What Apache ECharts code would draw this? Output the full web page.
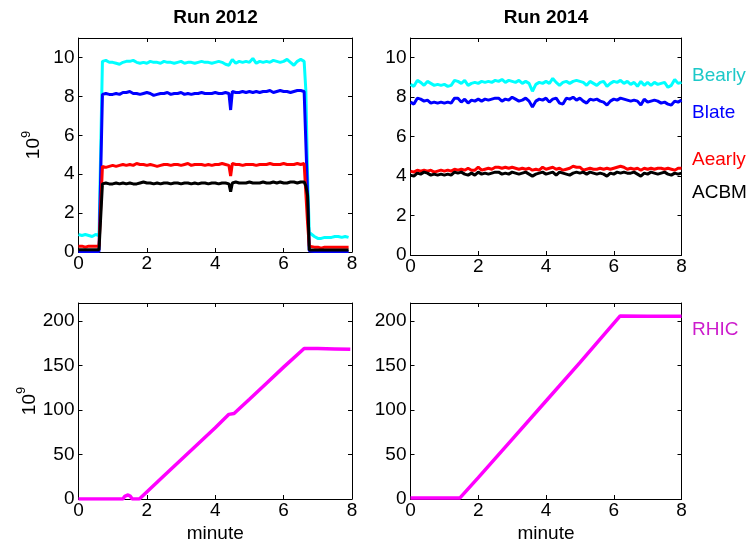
<!DOCTYPE html>
<html>
<head>
<meta charset="utf-8">
<script src="https://cdn.jsdelivr.net/npm/echarts@6/dist/echarts.min.js"></script>
<style>
html,body{margin:0;padding:0;background:#fff;}
#chart{width:749px;height:544px;}
</style>
</head>
<body>
<div id="chart"></div>
<script>
// ---------- Data ----------
const panelTitles = ['Run 2012', 'Run 2014'];
const seriesNames = ['Bearly', 'Blate', 'Aearly', 'ACBM'];
const xTicks = [0, 2, 4, 6, 8];
const yTicksTop = [0, 2, 4, 6, 8, 10];
const yTicksBottom = [0, 50, 100, 150, 200];

const t2012 = [0,0.1,0.2,0.3,0.4,0.5,0.6,0.65,
  0.7,0.8,0.9,1.0,1.1,1.2,1.3,1.4,1.5,1.6,1.7,1.8,1.9,2.0,2.1,2.2,2.3,2.4,2.5,2.6,2.7,2.8,2.9,3.0,3.1,3.2,3.3,3.4,3.5,3.6,3.7,3.8,3.9,4.0,4.1,4.2,4.3,4.4,
  4.45,
  4.5,4.6,4.7,4.8,4.9,5.0,5.1,5.2,5.3,5.4,5.5,5.6,5.7,5.8,5.9,6.0,6.1,6.2,6.3,6.4,6.5,6.6,
  6.65,6.7,6.75,
  6.8,6.9,7.0,7.1,7.2,7.3,7.4,7.5,7.6,7.7,7.8,7.9];

const bearly2012 = [0.9,0.85,0.9,0.85,0.8,0.9,0.85,0.9,
  9.8,9.85,9.75,9.75,9.7,9.65,9.75,9.8,9.8,9.85,
  9.75,9.7,9.75,9.7,9.8,9.75,9.75,9.7,9.8,9.75,
  9.75,9.7,9.75,9.8,9.7,9.75,9.75,9.7,9.75,9.8,
  9.75,9.75,9.7,9.75,9.8,9.75,9.65,9.6,
  9.75,
  9.9,9.7,9.8,9.75,9.8,9.75,9.95,9.7,9.8,9.75,
  9.8,9.75,9.85,9.8,9.75,9.8,9.9,9.75,9.6,9.8,
  9.9,9.8,
  8.3,4.0,1.0,
  0.9,0.8,0.7,0.7,0.75,0.75,0.75,0.8,0.8,0.75,0.8,0.75];

const blate2012 = [0.03,0.03,0.03,0.03,0.03,0.03,0.03,0.03,
  8.1,8.15,8.1,8.1,8.15,8.1,8.2,8.2,8.25,8.15,
  8.15,8.1,8.15,8.2,8.15,8.05,8.1,8.15,8.15,8.2,
  8.1,8.15,8.15,8.2,8.1,8.15,8.1,8.15,8.15,8.2,
  8.15,8.15,8.15,8.2,8.15,8.15,8.2,8.15,
  7.3,
  8.25,8.2,8.2,8.25,8.2,8.25,8.2,8.25,8.2,8.25,
  8.25,8.3,8.2,8.25,8.3,8.25,8.25,8.2,8.25,8.3,
  8.3,8.25,
  8.2,3.0,0.05,
  0.03,0.03,0.03,0.03,0.03,0.03,0.03,0.03,0.03,0.03,0.03,0.03];

const aearly2012 = [0.3,0.3,0.25,0.3,0.3,0.3,0.3,0.3,
  4.4,4.35,4.4,4.45,4.4,4.45,4.5,4.45,4.5,4.45,
  4.55,4.5,4.5,4.45,4.5,4.45,4.4,4.45,4.5,4.5,
  4.45,4.5,4.5,4.45,4.5,4.55,4.45,4.5,4.5,4.5,
  4.45,4.5,4.45,4.5,4.5,4.55,4.5,4.45,
  3.9,
  4.55,4.5,4.5,4.45,4.5,4.5,4.5,4.45,4.5,4.5,
  4.5,4.55,4.5,4.5,4.5,4.55,4.5,4.5,4.5,4.55,
  4.5,4.55,
  4.5,1.5,0.3,
  0.25,0.25,0.25,0.2,0.25,0.25,0.25,0.25,0.25,0.25,0.25,0.25];

const acbm2012 = [0.12,0.12,0.12,0.12,0.12,0.12,0.12,0.12,
  3.5,3.55,3.5,3.5,3.55,3.5,3.55,3.5,3.55,3.5,
  3.5,3.55,3.6,3.55,3.55,3.5,3.55,3.5,3.55,3.55,
  3.5,3.55,3.55,3.5,3.55,3.55,3.5,3.55,3.5,3.55,
  3.55,3.5,3.55,3.55,3.5,3.55,3.55,3.5,
  3.1,
  3.55,3.6,3.55,3.55,3.55,3.6,3.55,3.55,3.55,3.6,
  3.55,3.55,3.6,3.55,3.6,3.55,3.55,3.6,3.6,3.55,
  3.6,3.6,
  3.4,2.9,0.1,
  0.1,0.1,0.1,0.1,0.1,0.1,0.1,0.1,0.1,0.1,0.1,0.1];

const t2014 = [0,0.1,0.2,0.3,0.4,0.5,0.6,0.7,0.8,0.9,
  1.0,1.1,1.2,1.3,1.4,1.5,1.6,1.7,1.8,1.9,
  2.0,2.1,2.2,2.3,2.4,2.5,2.6,2.7,2.8,2.9,
  3.0,3.1,3.2,3.3,3.4,3.5,3.6,3.7,3.8,3.9,
  4.0,4.1,4.2,4.3,4.4,4.5,4.6,4.7,4.8,4.9,
  5.0,5.1,5.2,5.3,5.4,5.5,5.6,5.7,5.8,5.9,
  6.0,6.1,6.2,6.3,6.4,6.5,6.6,6.7,6.8,6.9,
  7.0,7.1,7.2,7.3,7.4,7.5,7.6,7.7,7.8,7.9,8.0];

const bearly2014 = [8.65,8.55,8.85,8.75,8.6,8.8,8.7,8.6,8.65,8.6,
  8.65,8.55,8.6,8.85,8.8,8.7,8.85,8.6,8.7,8.75,
  8.7,8.8,8.75,8.8,8.75,8.85,8.8,8.9,8.75,8.85,
  8.8,8.75,8.85,8.7,8.8,8.7,8.3,8.65,8.75,8.7,
  8.8,8.7,8.95,8.75,8.6,8.75,8.8,8.7,8.8,8.85,
  8.8,8.75,8.6,8.8,8.7,8.6,8.75,8.8,8.55,8.7,
  8.8,8.75,8.85,8.7,8.8,8.65,8.75,8.55,8.8,8.6,
  8.75,8.6,8.75,8.65,8.7,8.75,8.5,8.6,8.9,8.7,8.75];

const blate2014 = [7.75,7.65,7.95,7.9,7.8,7.85,7.7,7.75,7.7,7.75,
  7.7,7.75,7.7,7.95,7.95,7.75,7.9,7.7,7.85,7.8,
  7.9,7.8,7.9,7.85,7.9,7.95,7.95,7.8,7.9,7.85,
  8.0,7.9,7.8,7.85,7.95,7.8,7.5,7.8,7.9,7.85,
  7.95,7.75,7.9,7.95,7.7,7.65,7.95,7.9,8.0,7.85,
  7.95,7.8,7.7,7.9,7.85,7.9,7.8,7.75,7.6,7.8,
  7.9,7.85,7.95,7.9,7.85,7.8,7.85,7.8,7.6,7.9,
  7.75,7.8,7.85,7.8,7.7,7.75,7.65,7.6,7.8,7.75,7.85];

const aearly2014 = [4.25,4.2,4.3,4.25,4.3,4.25,4.3,4.2,4.25,4.3,
  4.25,4.3,4.25,4.35,4.3,4.35,4.3,4.4,4.3,4.3,
  4.45,4.3,4.35,4.4,4.35,4.45,4.45,4.4,4.45,4.4,
  4.45,4.4,4.35,4.4,4.35,4.4,4.3,4.35,4.3,4.45,
  4.35,4.4,4.45,4.35,4.4,4.3,4.35,4.4,4.5,4.45,
  4.45,4.3,4.35,4.4,4.35,4.35,4.4,4.35,4.4,4.35,
  4.4,4.45,4.5,4.45,4.35,4.4,4.35,4.4,4.3,4.4,
  4.35,4.4,4.35,4.4,4.4,4.35,4.4,4.35,4.3,4.4,4.4];

const acbm2014 = [4.05,4.0,4.15,4.1,4.2,4.15,4.05,4.1,4.05,4.1,
  4.05,4.1,4.05,4.2,4.15,4.2,4.1,4.05,4.15,4.05,
  4.2,4.1,4.15,4.1,4.15,4.2,4.2,4.1,4.15,4.1,
  4.2,4.15,4.1,4.15,4.2,4.1,4.0,4.1,4.15,4.2,
  4.1,4.15,4.2,4.05,4.2,4.15,4.1,4.05,4.15,4.2,
  4.15,4.2,4.1,4.2,4.15,4.1,4.15,4.1,4.0,4.15,
  4.1,4.2,4.15,4.2,4.15,4.15,4.2,4.1,4.0,4.15,
  4.1,4.2,4.15,4.1,4.15,4.2,4.1,4.05,4.15,4.1,4.15];

const rhicT2012 = [0,1.3,1.35,1.45,1.52,1.57,1.78,2.5,3.0,3.5,4.0,4.4,4.55,5.0,5.5,6.0,6.6,7.0,7.5,7.95];
const rhic2012  = [0,0,3,4.5,3,0,0,26,44,62,80,95,96,112,130,148,169,169,168.5,168];

const rhicT2014 = [0,0.45,0.5,0.55,1.46,2,3,4,5,6.19,7,8];
const rhic2014  = [1.2,1.2,0,1.2,1.2,24,67,110,153,205.5,205,205];

// ---------- Styling / layout ----------
const FONT = '"Liberation Sans", Arial, Helvetica, sans-serif';
const colors = {Bearly:'#00FFFF', Blate:'#0000FF', Aearly:'#FF0000', ACBM:'#000000', RHIC:'#FF00FF'};
const labelColors = {Bearly:'#1CC8C8', Blate:'#0000FF', Aearly:'#FF0000', ACBM:'#000000', RHIC:'#CC1CCC'};

const grids = [
  {left:78.5, top:38, width:273.5, height:214},
  {left:410.5, top:38, width:271, height:217},
  {left:78.5, top:303, width:273.5, height:198},
  {left:410.5, top:303, width:271, height:203}
];
const yMaxes = [11, 11, 220, 220];
const yInts = [2, 2, 50, 50];
const yTickLists = [yTicksTop, yTicksTop, yTicksBottom, yTicksBottom];

const xAxes = [], yAxes = [];
grids.forEach((g, gi) => {
  const common = {
    gridIndex: gi, type: 'value',
    axisLine: {show: true, onZero: false, lineStyle: {color: '#000', width: 1}},
    axisTick: {show: true, inside: true, length: 4, lineStyle: {color: '#000', width: 1}},
    splitLine: {show: false}
  };
  xAxes.push(Object.assign({}, common, {
    position: 'bottom', min: xTicks[0], max: xTicks[xTicks.length-1], interval: 2,
    axisLabel: {color: '#000', fontSize: 19, fontFamily: FONT, margin: 2},
    name: gi >= 2 ? 'minute' : '', nameLocation: 'middle', nameGap: 25,
    nameTextStyle: {color: '#000', fontSize: 19, fontFamily: FONT}
  }));
  xAxes.push(Object.assign({}, common, {
    position: 'top', min: 0, max: 8, interval: 2, axisLabel: {show: false}
  }));
  const ticks = yTickLists[gi];
  yAxes.push(Object.assign({}, common, {
    position: 'left', min: 0, max: yMaxes[gi], interval: yInts[gi],
    axisLabel: {color: '#000', fontSize: 19, fontFamily: FONT, margin: 4,
      formatter: v => ticks.indexOf(v) >= 0 ? String(v) : ''},
    name: (gi % 2 === 0) ? '{a|10}{b|9}' : '', nameLocation: 'middle', nameRotate: 90, nameGap: 35,
    nameTextStyle: {rich: {
      a: {fontSize: 19, fontFamily: FONT, color: '#000', lineHeight: 24, verticalAlign: 'bottom'},
      b: {fontSize: 13, fontFamily: FONT, color: '#000', lineHeight: 13, verticalAlign: 'top'}
    }}
  }));
  yAxes.push(Object.assign({}, common, {
    position: 'right', min: 0, max: yMaxes[gi], interval: yInts[gi], axisLabel: {show: false}
  }));
});

function pairs(t, v) { return t.map((x, i) => [x, v[i]]); }
function lineSeries(name, gi, t, v, width) {
  return {
    name: name, type: 'line', xAxisIndex: 2*gi, yAxisIndex: 2*gi,
    data: pairs(t, v), showSymbol: false, symbol: 'none',
    lineStyle: {color: colors[name], width: width}, itemStyle: {color: colors[name]},
    animation: false
  };
}

const series = [
  lineSeries('Bearly', 0, t2012, bearly2012, 3),
  lineSeries('Blate', 0, t2012, blate2012, 3),
  lineSeries('Aearly', 0, t2012, aearly2012, 3),
  lineSeries('ACBM', 0, t2012, acbm2012, 3),
  lineSeries('Bearly', 1, t2014, bearly2014, 3),
  lineSeries('Blate', 1, t2014, blate2014, 3),
  lineSeries('Aearly', 1, t2014, aearly2014, 3),
  lineSeries('ACBM', 1, t2014, acbm2014, 3),
  lineSeries('RHIC', 2, rhicT2012, rhic2012, 3.5),
  lineSeries('RHIC', 3, rhicT2014, rhic2014, 3.5)
];

function txt(text, x, y, color, bold, align) {
  return {type: 'text', x: x, y: y, silent: true, style: {
    text: text, fill: color,
    font: (bold ? 'bold ' : '') + '19px ' + FONT,
    textAlign: align, align: align, textVerticalAlign: 'middle', verticalAlign: 'middle'
  }};
}

const graphics = [
  txt(panelTitles[0], 215.5, 17.5, '#000', true, 'center'),
  txt(panelTitles[1], 546, 17.5, '#000', true, 'center'),
  txt(seriesNames[0], 692, 76, labelColors.Bearly, false, 'left'),
  txt(seriesNames[1], 692, 113, labelColors.Blate, false, 'left'),
  txt(seriesNames[2], 692, 160, labelColors.Aearly, false, 'left'),
  txt(seriesNames[3], 692, 193, labelColors.ACBM, false, 'left'),
  txt('RHIC', 692, 329.5, labelColors.RHIC, false, 'left')
];

const chart = echarts.init(document.getElementById('chart'), null, {renderer: 'canvas'});
chart.setOption({
  animation: false,
  backgroundColor: '#fff',
  grid: grids.map(g => Object.assign({containLabel: false}, g)),
  xAxis: xAxes,
  yAxis: yAxes,
  series: series,
  graphic: graphics
});
</script>
</body>
</html>
